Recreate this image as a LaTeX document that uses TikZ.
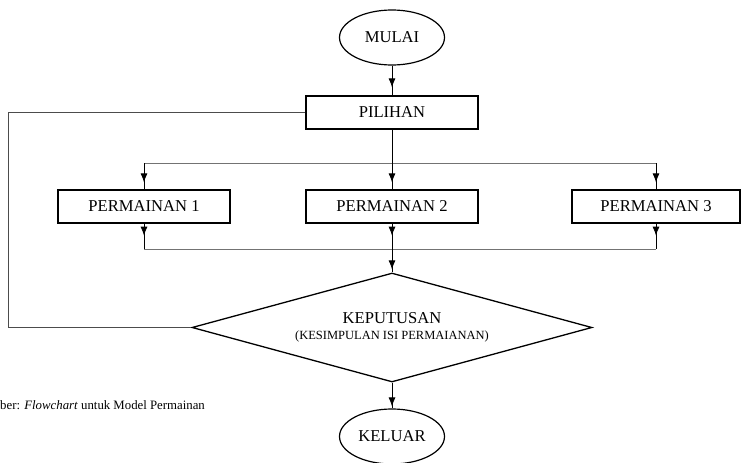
\documentclass[tikz,border=0pt]{standalone}
\usepackage{fontspec}
\setmainfont{Liberation Serif}
\usetikzlibrary{shapes.geometric,arrows.meta,calc}

\begin{document}
\begin{tikzpicture}[x=1pt, y=-1pt, >={Latex[length=9pt, width=7pt]},
		label/.style={font=\fontsize{16.6}{19}\selectfont},
		kotak/.style={draw, label, line width=1.3pt, minimum width=172pt, minimum height=33pt, inner sep=0pt},
		oval/.style={draw, label, ellipse, line width=1.2pt, minimum width=105pt, minimum height=55pt, inner sep=0pt},
		belah/.style={draw, label, diamond, aspect=3.67, line width=1.3pt, minimum width=400pt, minimum height=109pt, inner sep=0pt, align=center},
		garis/.style={line width=.8pt},
		cabang/.style={line width=1pt, black!55}]
		\useasboundingbox(0, 0)rectangle(742, 463);
		\node[oval](mulai)at(392, 37.5){MULAI};
		\node[kotak](pilihan)at(392, 112.5){PILIHAN};
		\node[kotak](main1)at(144, 206.5){PERMAINAN 1};
		\node[kotak](main2)at(392, 206.5){PERMAINAN 2};
		\node[kotak, minimum width=168pt](main3)at(656, 206.5){PERMAINAN 3};
		\node[belah](putus)at(392, 327.5){KEPUTUSAN\\[-3pt]{\fontsize{12.5}{14}\selectfont(KESIMPULAN ISI PERMAIANAN)}};
		\node[oval](keluar)at(392, 436.5){KELUAR};
		\node[anchor=west, font=\fontsize{12.8}{15}\selectfont, inner sep=0pt](sumber)at(0, 405){ber: \textit{Flowchart} untuk Model Permainan};
		\coordinate(atas)at(0, 163);
		\coordinate(bawah)at(0, 249);
		\coordinate(kiri)at(8, 327.5);
		% mulai ke pilihan
		\draw[garis](mulai)--(pilihan);
		\draw[garis, ->](mulai)--([yshift=8pt]pilihan.north);
		% cabang permainan
		\draw[garis](pilihan)--(pilihan|-atas);
		\draw[cabang](main1|-atas)--(main3|-atas);
		\draw[cabang](main1|-bawah)--(main3|-bawah);
		\foreach \i in {1, 2, 3}{
			\draw[garis](main\i|-atas)--(main\i);
			\draw[garis, ->](main\i|-atas)--([yshift=7pt]main\i.north);
			\draw[garis](main\i)--(main\i|-bawah);
			\draw[garis, ->](main\i)--([yshift=-12pt]main\i.south);
		}
		% keputusan
		\draw[garis](putus|-bawah)--(putus);
		\draw[garis, ->](putus|-bawah)--([yshift=3pt]putus.north);
		\draw[garis](putus)--(keluar);
		\draw[garis, ->](putus)--([yshift=2pt]keluar.north);
		% kembali ke pilihan
		\draw[cabang, black!70](pilihan.west)-|(kiri)--(putus.west);
	\end{tikzpicture}
\end{document}
